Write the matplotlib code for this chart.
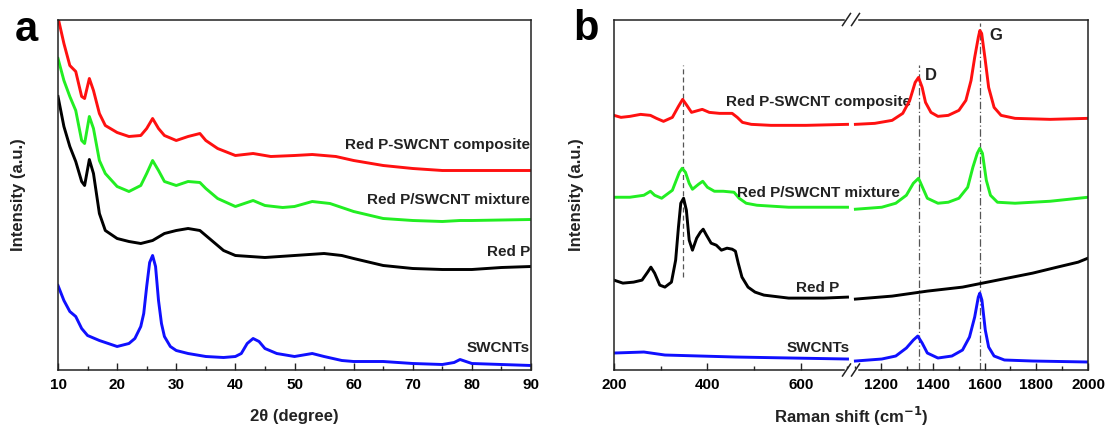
import matplotlib

matplotlib.use("Agg")
import matplotlib.pyplot as plt  # noqa: E402
from matplotlib.lines import Line2D  # noqa: E402
from matplotlib.ticker import MultipleLocator  # noqa: E402

plt.rcParams["font.family"] = ["Liberation Sans", "DejaVu Sans"]
plt.rcParams["font.weight"] = "bold"

# ---- XRD (panel a): 2-theta in degrees, intensity offset per trace ----
xrd_labels = ["Red P-SWCNT composite", "Red P/SWCNT mixture", "Red P", "SWCNTs"]
xrd_colors = ["#ff1010", "#22ee22", "#000000", "#1010ff"]
xrd_label_y = [224, 170, 117, 22]

xrd_comp_x = [10, 11, 12, 13, 14, 14.5, 15.3, 16, 17, 18, 20, 22, 24, 25, 26, 27, 28, 30,
              32, 34, 35, 37, 40, 43, 46, 50, 53, 57, 60, 65, 70, 75, 80, 85, 90]
xrd_comp_y = [352, 326, 304, 298, 273, 271, 291, 279, 256, 244, 237, 233, 234, 241, 251, 241,
              234, 229, 233, 236, 229, 221, 214, 216, 213, 214, 215, 213, 209, 204, 201, 199,
              199, 199, 199]

xrd_mix_x = [10, 11, 12, 13, 14, 14.5, 15.3, 16, 17, 18, 20, 22, 24, 25, 26, 27, 28, 30, 32,
             34, 35, 37, 40, 43, 45, 48, 50, 53, 56, 60, 65, 70, 75, 78, 80, 90]
xrd_mix_y = [311, 289, 273, 259, 229, 226, 253, 241, 209, 196, 183, 178, 184, 196, 209, 199,
             188, 184, 188, 187, 181, 171, 163, 169, 164, 162, 163, 168, 166, 158, 151, 149,
             148, 149, 149, 150]

xrd_redp_x = [10, 11, 12, 13, 14, 14.5, 15.3, 16, 17, 18, 20, 22, 24, 26, 28, 30, 32, 34, 36,
              38, 40, 45, 50, 55, 58, 60, 65, 70, 75, 80, 85, 90]
xrd_redp_y = [273, 243, 223, 208, 188, 184, 210, 196, 156, 139, 131, 128, 126, 129, 136, 139,
              141, 139, 129, 119, 114, 112, 114, 116, 114, 111, 104, 101, 100, 100, 102, 103]

xrd_swcnt_x = [10, 11, 12, 13, 14, 15, 17, 20, 22, 23, 24, 24.5, 25, 25.5, 26, 26.5, 27, 27.5,
               28, 29, 30, 32, 35, 38, 40, 41, 42, 43, 44, 45, 47, 50, 53, 55, 58, 60, 65, 70,
               75, 77, 78, 79, 80, 85, 90]
xrd_swcnt_y = [84, 69, 58, 53, 41, 34, 29, 23, 26, 31, 43, 56, 83, 107, 114, 103, 69, 46, 33,
               23, 19, 16, 13, 12, 13, 16, 26, 31, 28, 21, 16, 13, 16, 13, 9, 8, 8, 6, 5, 7, 10,
               8, 6, 5, 4]

# ---- Raman (panel b): low-wavenumber segment and carbon D/G segment ----
raman_labels = xrd_labels
raman_label_y = [268, 177, 82, 22]

comp_lo_x = [200, 215, 234, 257, 278, 291, 306, 325, 338, 347, 356, 366, 381, 389, 404, 426,
             453, 464, 475, 494, 536, 611, 700]
comp_lo_y = [255, 253, 254, 256, 255, 252, 249, 253, 264, 271, 265, 258, 260, 261, 258, 257,
             257, 253, 248, 246, 245, 245, 246]
comp_hi_x = [1101, 1176, 1243, 1284, 1311, 1332, 1345, 1359, 1372, 1393, 1420, 1460, 1501,
             1528, 1548, 1562, 1576, 1582, 1589, 1603, 1616, 1637, 1664, 1718, 1854, 2000]
comp_hi_y = [246, 247, 250, 257, 270, 288, 293, 283, 268, 258, 254, 255, 260, 270, 290, 313,
             333, 340, 337, 310, 283, 263, 255, 252, 251, 252]

mix_lo_x = [200, 234, 264, 278, 287, 302, 325, 340, 346, 353, 361, 368, 381, 390, 400, 415,
            434, 457, 468, 483, 506, 574, 700]
mix_lo_y = [173, 173, 175, 179, 175, 172, 180, 198, 202, 198, 187, 181, 186, 189, 183, 179,
            179, 178, 172, 167, 165, 163, 163]
mix_hi_x = [1101, 1203, 1257, 1298, 1325, 1345, 1362, 1379, 1420, 1460, 1501, 1535, 1555,
            1572, 1582, 1592, 1607, 1623, 1650, 1718, 1854, 2000]
mix_hi_y = [161, 163, 167, 175, 187, 192, 182, 172, 167, 168, 172, 183, 203, 217, 222, 217,
            190, 175, 168, 167, 169, 173]

redp_lo_x = [200, 219, 242, 260, 272, 279, 287, 298, 309, 323, 332, 338, 343, 349, 355, 361,
             368, 377, 385, 391, 398, 408, 419, 430, 442, 453, 460, 466, 474, 487, 502, 521,
             574, 649, 700]
redp_lo_y = [90, 87, 88, 90, 98, 103, 97, 85, 83, 88, 110, 143, 167, 172, 160, 130, 120, 132,
             138, 141, 135, 127, 125, 120, 122, 121, 119, 107, 93, 83, 78, 75, 72, 72, 73]
redp_hi_x = [1101, 1243, 1379, 1515, 1650, 1786, 1881, 1962, 2000]
redp_hi_y = [71, 74, 79, 83, 90, 97, 103, 108, 112]

swcnt_lo_x = [200, 264, 309, 460, 700]
swcnt_lo_y = [17, 18, 15, 13, 11]
swcnt_hi_x = [1101, 1203, 1257, 1298, 1325, 1342, 1359, 1379, 1420, 1474, 1515, 1542, 1562,
              1576, 1582, 1590, 1603, 1616, 1637, 1677, 1786, 2000]
swcnt_hi_y = [9, 11, 14, 22, 30, 34, 27, 17, 12, 14, 20, 33, 53, 73, 77, 70, 40, 23, 14, 10,
              9, 8]

# reference band positions (cm-1) and how far each guide reaches
redp_band = 347
redp_band_span = (93, 305)
d_band = 1345
d_band_top = 305
g_band = 1582
g_band_top = 347

W, H = 1109, 426
fig = plt.figure(figsize=(W / 100, H / 100), dpi=100)
INK = "#222222"


def frac(x0, y0, x1, y1):
    """Pixel box (left, top, right, bottom) -> figure-fraction rect."""
    return [x0 / W, 1 - y1 / H, (x1 - x0) / W, (y1 - y0) / H]


def style(ax):
    for s in ax.spines.values():
        s.set_linewidth(1.1)
        s.set_color(INK)
    ax.tick_params(axis="x", which="both", direction="in", top=False, labelsize=11,
                   pad=6, width=1.0, color=INK)
    ax.tick_params(axis="x", which="major", length=5)
    ax.tick_params(axis="x", which="minor", length=2.6)
    ax.set_yticks([])
    for t in ax.get_xticklabels():
        t.set_fontweight("bold")


LW = 2.1

# panel a
ax_a = fig.add_axes(frac(58, 19.5, 531, 369.5))
xrd = [(xrd_comp_x, xrd_comp_y), (xrd_mix_x, xrd_mix_y),
       (xrd_redp_x, xrd_redp_y), (xrd_swcnt_x, xrd_swcnt_y)]
for (x, y), c, lab, ly in zip(xrd, xrd_colors, xrd_labels, xrd_label_y):
    ax_a.plot(x, y, color=c, lw=LW, solid_joinstyle="round")
    ax_a.text(89.8, ly, lab, ha="right", va="center", fontsize=11, fontweight="bold",
              color=INK)
ax_a.set_xlim(10, 90)
ax_a.set_ylim(0, 350)
ax_a.xaxis.set_major_locator(MultipleLocator(10))
ax_a.xaxis.set_minor_locator(MultipleLocator(5))
style(ax_a)
fig.text(294 / W, 1 - 416 / H, "2\u03b8 (degree)", ha="center", va="center",
         fontsize=12, fontweight="bold", color=INK)
fig.text(19 / W, 1 - 195 / H, "Intensity (a.u.)", rotation=90, ha="center", va="center",
         fontsize=12, fontweight="bold", color=INK)
fig.text(26 / W, 1 - 30 / H, "a", ha="center", va="center", fontsize=30,
         fontweight="bold", color="black")

# panel b: two axes side by side form a broken x axis
x_break = 851
ax_lo = fig.add_axes(frac(614, 19.5, x_break, 370))
ax_hi = fig.add_axes(frac(x_break, 19.5, 1088, 370))
ax_hi.patch.set_visible(False)
raman_lo = [(comp_lo_x, comp_lo_y), (mix_lo_x, mix_lo_y),
            (redp_lo_x, redp_lo_y), (swcnt_lo_x, swcnt_lo_y)]
raman_hi = [(comp_hi_x, comp_hi_y), (mix_hi_x, mix_hi_y),
            (redp_hi_x, redp_hi_y), (swcnt_hi_x, swcnt_hi_y)]
for (xl, yl), (xh, yh), c in zip(raman_lo, raman_hi, xrd_colors):
    ax_lo.plot(xl, yl, color=c, lw=LW, solid_joinstyle="round")
    ax_hi.plot(xh, yh, color=c, lw=LW, solid_joinstyle="round")
for lab, ly in zip(raman_labels, raman_label_y):
    ax_lo.text(637, ly, lab, ha="center", va="center", fontsize=11, fontweight="bold",
               color=INK, zorder=5)

ax_lo.plot([redp_band, redp_band], redp_band_span, color="#555555", lw=0.9,
           ls=(0, (4, 2.5)), zorder=1)
ax_hi.plot([d_band, d_band], [0, d_band_top], color="#555555", lw=0.9,
           ls=(0, (6, 2, 1, 2)), zorder=1)
ax_hi.plot([g_band, g_band], [0, g_band_top], color="#555555", lw=0.9,
           ls=(0, (6, 2, 1, 2)), zorder=1)
ax_hi.text(1392, 295, "D", ha="center", va="center", fontsize=12, fontweight="bold",
           color=INK)
ax_hi.text(1643, 335, "G", ha="center", va="center", fontsize=12, fontweight="bold",
           color=INK)

ax_lo.set_xlim(200, 707.5)
ax_hi.set_xlim(1084, 2000)
for ax in (ax_lo, ax_hi):
    ax.set_ylim(0, 351)
    ax.xaxis.set_major_locator(MultipleLocator(200))
    ax.xaxis.set_minor_locator(MultipleLocator(100))
    style(ax)
ax_lo.spines["right"].set_visible(False)
ax_hi.spines["left"].set_visible(False)

# break marks "//" on the top and bottom spines
for yp in (19.5, 370):
    y = 1 - yp / H
    fig.add_artist(Line2D([(x_break - 5) / W, (x_break + 5) / W], [y, y],
                          transform=fig.transFigure, color="white", lw=2.5, zorder=10))
    for dx in (-4.5, 4.5):
        xc = x_break + dx
        fig.add_artist(Line2D([(xc - 4) / W, (xc + 4) / W], [y - 6 / H, y + 6 / H],
                              transform=fig.transFigure, color=INK, lw=1.1, zorder=11))

fig.text(851 / W, 1 - 416 / H, "Raman shift (cm$^{\\mathbf{-1}}$)", ha="center",
         va="center", fontsize=12, fontweight="bold", color=INK)
fig.text(576 / W, 1 - 195 / H, "Intensity (a.u.)", rotation=90, ha="center", va="center",
         fontsize=12, fontweight="bold", color=INK)
fig.text(586 / W, 1 - 29 / H, "b", ha="center", va="center", fontsize=30,
         fontweight="bold", color="black")

fig.savefig("out.png", dpi=100)
